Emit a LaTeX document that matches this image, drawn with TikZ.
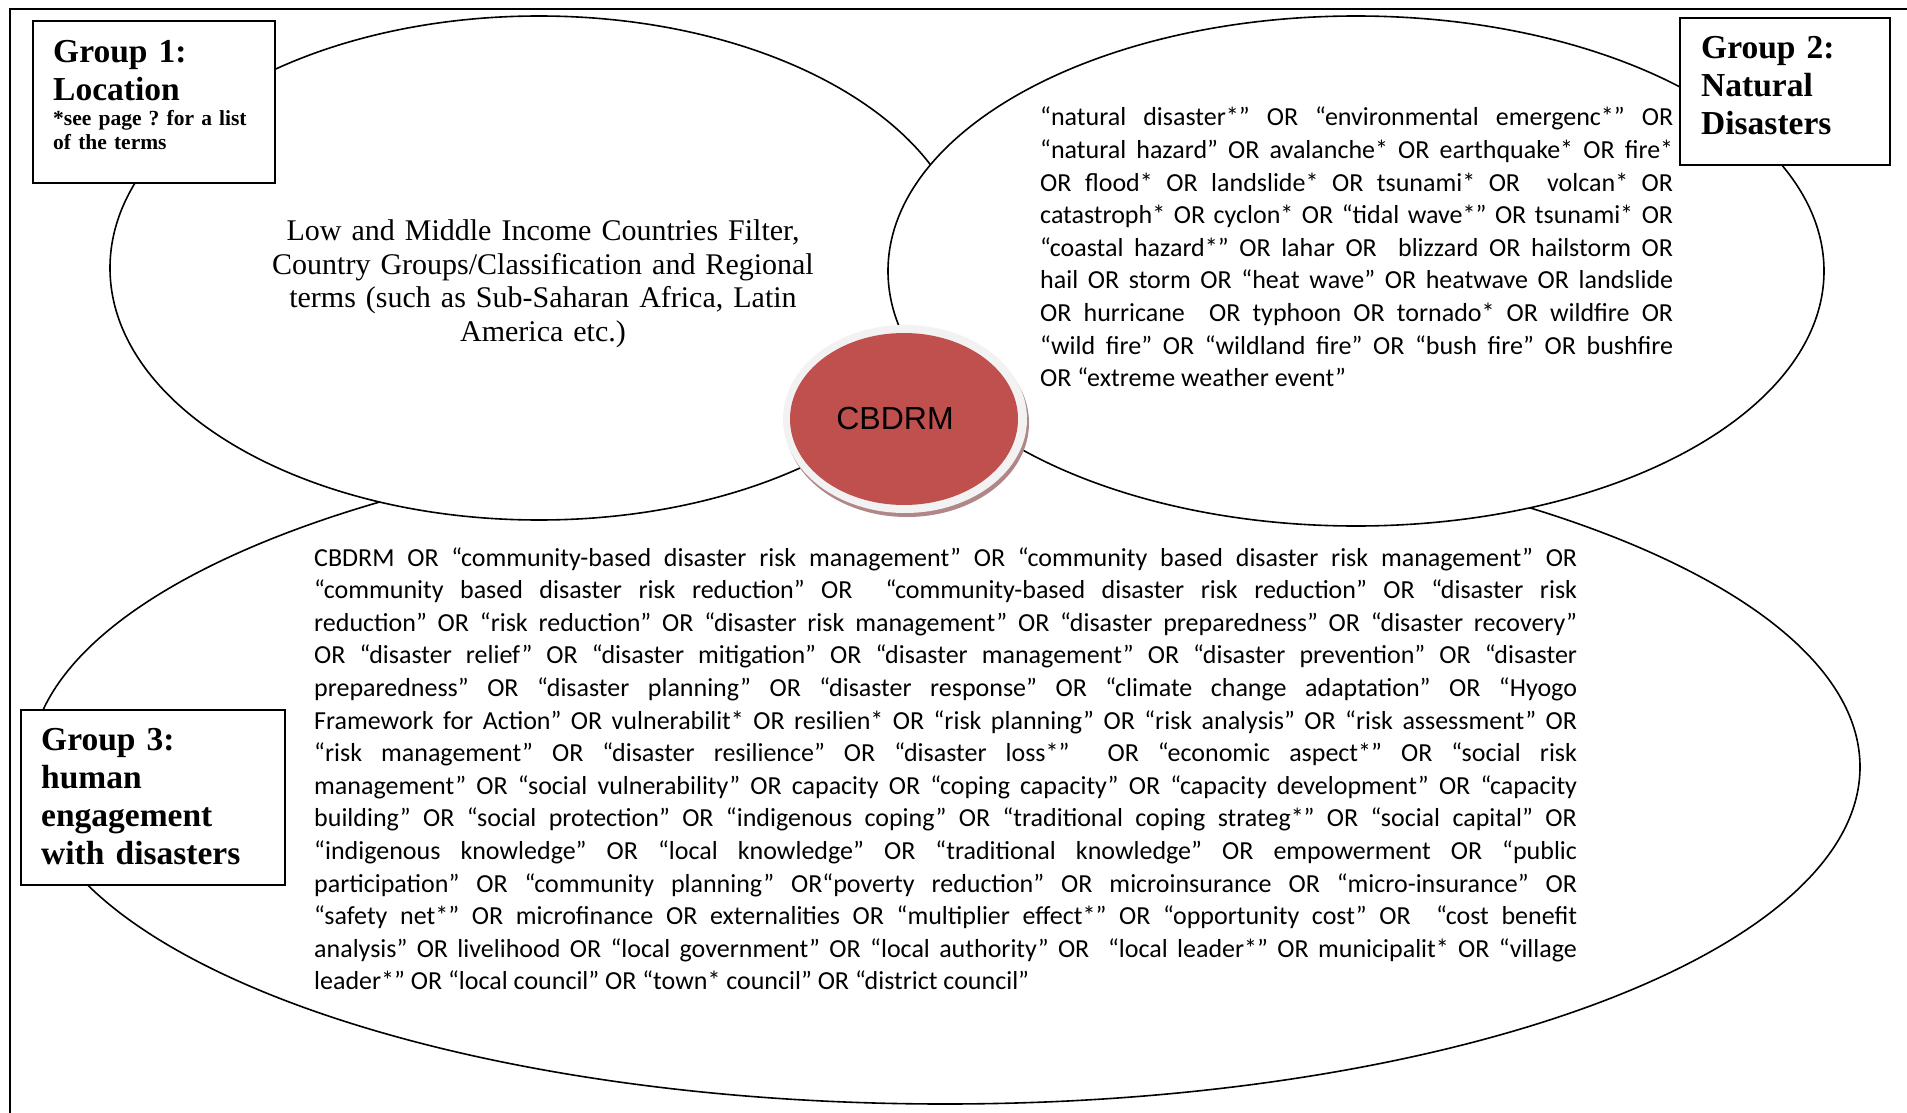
\documentclass[tikz,border=0pt]{standalone}
\usepackage{fontspec}
\setmainfont{Carlito}
\newfontfamily\serifF{Liberation Serif}
\newfontfamily\sansF{Liberation Sans}
\usetikzlibrary{shapes.geometric}
\definecolor{cbred}{HTML}{C0504D}
\definecolor{cbrim}{HTML}{F2F2F2}
\definecolor{cbshadow}{RGB}{176,134,136}
\newcommand\justsetup{\tolerance=10000\pretolerance=-1\hyphenpenalty=10000\exhyphenpenalty=10000\emergencystretch=0pt\rightskip=0pt\leftskip=0pt\parfillskip=0pt plus 1fil\relax}
\frenchspacing
\begin{document}
\begin{tikzpicture}[x=1pt,y=-1pt,
  outline/.style={draw=black, line width=1.6pt, fill=white},
  gbox/.style={draw=black, line width=1.8pt, fill=white, inner sep=0pt, anchor=north west},
  head/.style={inner sep=0pt, anchor=base west, align=left, font=\serifF\bfseries\fontsize{33.5}{38}\selectfont},
  note/.style={inner sep=0pt, anchor=base west, align=left, font=\serifF\bfseries\fontsize{21.5}{24}\selectfont},
  body/.style={inner sep=0pt, anchor=base west, align=justify, font=\frenchspacing\fontsize{26}{32.6}\selectfont}]
\useasboundingbox (0,0) rectangle (1907,1113);
\clip (0,0) rectangle (1907,1113);
% outer frame
\draw[line width=2.5pt] (10,9) rectangle (1960,1160);
% ellipses
\draw[outline] (945,767) ellipse [x radius=915, y radius=337];
\draw[outline] (539,268) ellipse [x radius=429, y radius=252];
\draw[outline] (1356,271) ellipse [x radius=468, y radius=255];
% CBDRM
\fill[cbshadow] (907,423) ellipse [x radius=122, y radius=94];
\fill[cbrim] (905,419) ellipse [x radius=122, y radius=94];
\node[ellipse, fill=cbred, minimum width=228pt, minimum height=172pt, inner sep=0pt] (cbdrm) at (904,419) {};
\node[inner sep=0pt, font=\sansF\fontsize{32}{38}\selectfont] (cbdrmlabel) at (895,418) {CBDRM};
% boxes
\node[gbox, minimum width=242pt, minimum height=162pt] (g1box) at (32,20) {};
\node[gbox, minimum width=210pt, minimum height=147pt] (g2box) at (1679,17) {};
\node[gbox, minimum width=264pt, minimum height=175pt] (g3box) at (20,709) {};
\node[head, text width=215pt] (g1title) at (53,63) {Group 1:\\Location};
\node[note, text width=215pt] (g1note) at (53,126) {*see page ? for a list\\of the terms};
\node[head, text width=180pt] (g2title) at (1701,59) {Group 2:\\Natural\\Disasters};
\node[head, text width=250pt] (g3title) at (41,750) {Group 3:\\human\\engagement\\with disasters};
% group 1 text
\node[inner sep=0pt, anchor=base, text width=620pt, align=center, font=\serifF\fontsize{30}{34}\selectfont] (g1text) at (543,240)
 {Low and Middle Income Countries Filter,\\Country Groups/Classification and Regional\\terms (such as Sub-Saharan Africa, Latin\\America etc.)};
% group 2 text
\node[body, text width=633pt] (g2text) at (1040,126) {\justsetup
“natural disaster*” OR “environmental emergenc*” OR\linebreak
“natural hazard” OR avalanche* OR earthquake* OR fire*\linebreak
OR flood* OR landslide* OR tsunami* OR \ volcan* OR\linebreak
catastroph* OR cyclon* OR “tidal wave*” OR tsunami* OR\linebreak
“coastal hazard*” OR lahar OR \ blizzard OR hailstorm OR\linebreak
hail OR storm OR “heat wave” OR heatwave OR landslide\linebreak
OR hurricane \ OR typhoon OR tornado* OR wildfire OR\linebreak
“wild fire” OR “wildland fire” OR “bush fire” OR bushfire\linebreak
OR “extreme weather event”};
% group 3 text
\node[body, text width=1263pt] (g3text) at (314,566) {\justsetup
CBDRM OR “community-based disaster risk management” OR “community based disaster risk management” OR\linebreak
“community based disaster risk reduction” OR \ “community-based disaster risk reduction” OR “disaster risk\linebreak
reduction” OR “risk reduction” OR “disaster risk management” OR “disaster preparedness” OR “disaster recovery”\linebreak
OR “disaster relief” OR “disaster mitigation” OR “disaster management” OR “disaster prevention” OR “disaster\linebreak
preparedness” OR “disaster planning” OR “disaster response” OR “climate change adaptation” OR “Hyogo\linebreak
Framework for Action” OR vulnerabilit* OR resilien* OR “risk planning” OR “risk analysis” OR “risk assessment” OR\linebreak
“risk management” OR “disaster resilience” OR “disaster loss*” \ OR “economic aspect*” OR “social risk\linebreak
management” OR “social vulnerability” OR capacity OR “coping capacity” OR “capacity development” OR “capacity\linebreak
building” OR “social protection” OR “indigenous coping” OR “traditional coping strateg*” OR “social capital” OR\linebreak
“indigenous knowledge” OR “local knowledge” OR “traditional knowledge” OR empowerment OR “public\linebreak
participation” OR “community planning” OR“poverty reduction” OR microinsurance OR “micro-insurance” OR\linebreak
“safety net*” OR microfinance OR externalities OR “multiplier effect*” OR “opportunity cost” OR \ “cost benefit\linebreak
analysis” OR livelihood OR “local government” OR “local authority” OR \ “local leader*” OR municipalit* OR “village\linebreak
leader*” OR “local council” OR “town* council” OR “district council”};
\end{tikzpicture}
\end{document}
